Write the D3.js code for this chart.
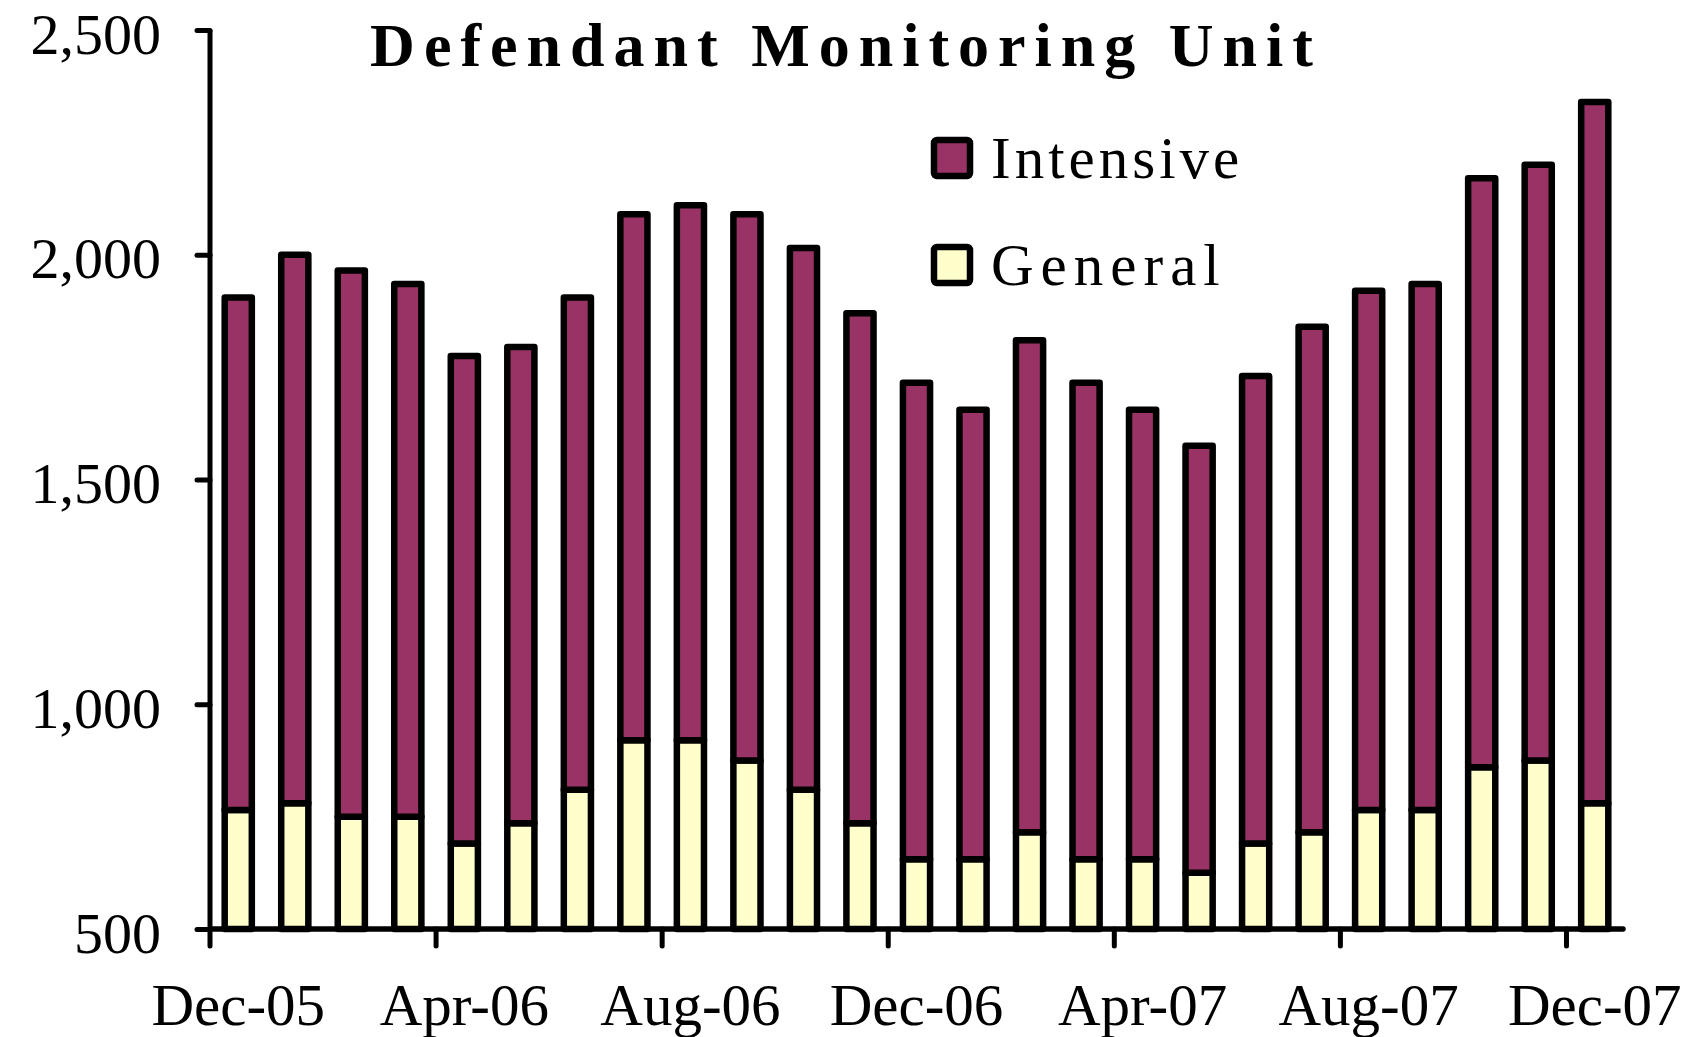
<!DOCTYPE html>
<html><head><meta charset="utf-8">
<script src="https://cdn.jsdelivr.net/npm/d3@7"></script>
<style>
html,body{margin:0;padding:0;background:#fff;}
svg{display:block;}
text{font-family:"Liberation Serif","Times New Roman",serif;fill:#000;}
</style></head>
<body>
<svg id="chart" width="1704" height="1037"></svg>
<script>
const months = ["Dec-05","Jan-06","Feb-06","Mar-06","Apr-06","May-06","Jun-06","Jul-06","Aug-06","Sep-06","Oct-06","Nov-06","Dec-06","Jan-07","Feb-07","Mar-07","Apr-07","May-07","Jun-07","Jul-07","Aug-07","Sep-07","Oct-07","Nov-07","Dec-07"];
const general = [765,780,750,750,690,735,810,920,920,875,810,735,655,655,715,655,655,625,690,715,765,765,860,875,780];
const totals = [1905,2000,1965,1935,1775,1795,1905,2090,2110,2090,2015,1870,1715,1655,1810,1715,1655,1575,1730,1840,1920,1935,2170,2200,2340];
const intensive = totals.map((t,i)=>t-general[i]);
const tickLabels = ["Dec-05","Apr-06","Aug-06","Dec-06","Apr-07","Aug-07","Dec-07"];
const yTicks = [500,1000,1500,2000,2500];
const seriesNames = ["General","Intensive"];
const colors = {General:"#FFFFCC", Intensive:"#993366"};
const title = "Defendant Monitoring Unit";

(function(){
const svg = d3.select("#chart");
const mL = 210, mR = 1623, mT = 30, mB = 929;

const x = d3.scaleBand().domain(months).range([mL,mR]).paddingInner(0.52).paddingOuter(0.26);
const y = d3.scaleLinear().domain([500,2500]).range([mB,mT]);

const rows = months.map((m,i)=>({month:m, General:general[i], Intensive:intensive[i]}));
const stack = d3.stack().keys(seriesNames)(rows);

svg.append("g").selectAll("g").data(stack).join("g")
  .attr("fill", d=>colors[d.key])
  .selectAll("rect").data(d=>d).join("rect")
  .attr("x", d=>x(d.data.month))
  .attr("width", x.bandwidth())
  .attr("y", d=>y(d[1]))
  .attr("height", d=>y(Math.max(d[0],500)) - y(d[1]))
  .attr("stroke","#000").attr("stroke-width",6.5).attr("stroke-linejoin","round");

// Y axis
const yAxis = svg.append("g").attr("transform",`translate(${mL},0)`)
  .call(d3.axisLeft(y).tickValues(yTicks).tickFormat(d3.format(",")).tickSize(13).tickPadding(36));
yAxis.select(".domain").attr("stroke","#000").attr("stroke-width",5).attr("d",`M0,${mT}V${mB}`);
yAxis.selectAll(".tick line").attr("stroke","#000").attr("stroke-width",5).attr("stroke-linecap","round");
yAxis.selectAll(".tick text").attr("font-size",58).attr("font-family","Liberation Serif").attr("dy","0.4em");

// X axis with ticks at category boundaries every 4
const step = x.step();
const boundaryIdx = [0,4,8,12,16,20,24];
const xg = svg.append("g").attr("transform",`translate(0,${mB})`);
xg.append("line").attr("x1",mL).attr("x2",mR).attr("y1",0).attr("y2",0)
  .attr("stroke","#000").attr("stroke-width",5.5).attr("stroke-linecap","round");
xg.selectAll("line.tk").data(boundaryIdx).join("line").attr("class","tk")
  .attr("x1",i=>mL+i*step).attr("x2",i=>mL+i*step)
  .attr("y1",0).attr("y2",17).attr("stroke","#000").attr("stroke-width",5).attr("stroke-linecap","round");
xg.selectAll("text").data(tickLabels).join("text")
  .attr("x",d=>x(d)+x.bandwidth()/2).attr("y",96)
  .attr("text-anchor","middle").attr("font-size",59).text(d=>d);

// Title
svg.append("text").attr("x",846).attr("y",66).attr("text-anchor","middle")
  .attr("font-size",62).attr("font-weight","bold").attr("letter-spacing",9).text(title);

// Legend
const legendItems = ["Intensive","General"];
const lsp = {Intensive:4, General:7};
const lg = svg.append("g");
legendItems.forEach((k,i)=>{
  const yy = 140 + i*107;
  lg.append("rect").attr("x",934).attr("y",yy).attr("width",36).attr("height",36).attr("rx",3)
    .attr("fill",colors[k]).attr("stroke","#000").attr("stroke-width",6.5);
  lg.append("text").attr("x",991).attr("y",yy+38).attr("font-size",59).attr("letter-spacing",lsp[k]).text(k);
});
})();
</script>
</body></html>
